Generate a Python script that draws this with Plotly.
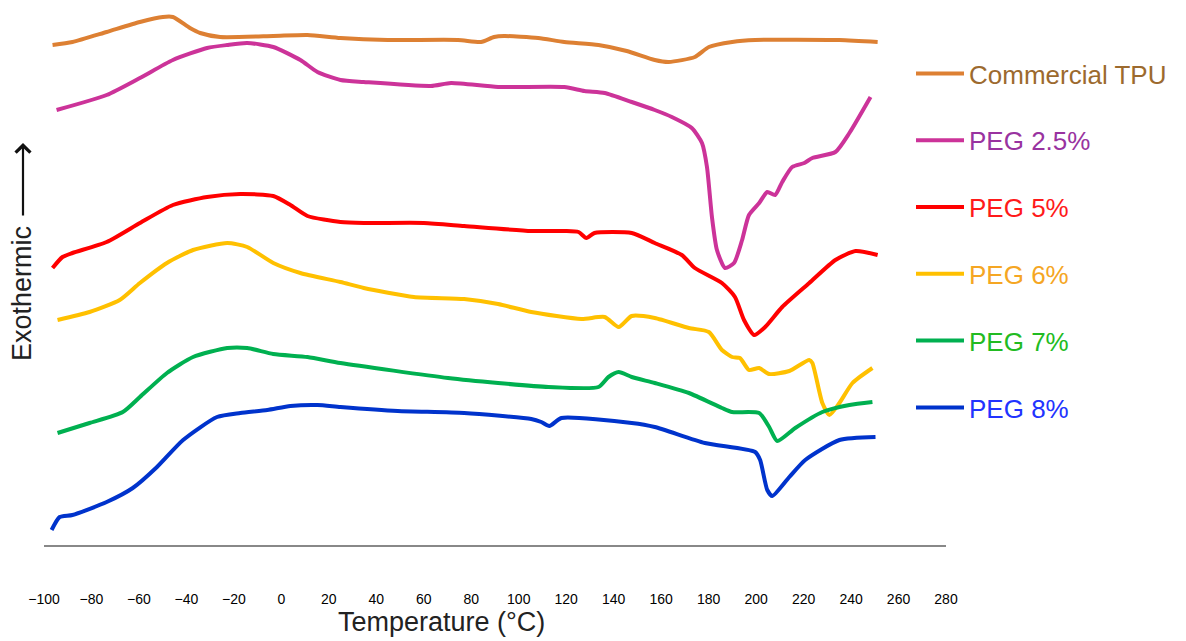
import plotly.graph_objects as go

# DSC curves: temperature (°C) vs heat flow (arbitrary units, exo up, curves offset)
tpu_t = [-96.4, -88.0, -73.6, -59.6, -49.9, -45.7, -38.5, -34.2, -25.8, -3.4, 11.0, 24.9, 44.8, 74.4, 84.1, 89.6, 93.9, 108.2, 119.2, 133.6, 145.5, 157.3, 163.2, 174.2, 180.1, 189.9, 199.6, 235.1, 251.2]
tpu_v = [500, 503, 513, 523, 528, 528, 517, 512, 508, 509, 510, 507, 505, 505, 503, 508, 509, 507, 503, 500, 494, 485, 483, 488, 498, 503, 505, 505, 503]

peg25_t = [-94.7, -73.6, -59.6, -45.7, -31.3, -22.8, -14.4, -3.4, 8.0, 15.2, 24.9, 34.7, 63.0, 71.5, 91.3, 119.2, 127.7, 136.2, 147.6, 157.3, 164.5, 172.9, 177.2, 179.3, 181.4, 183.5, 186.9, 190.7, 194.1, 197.0, 201.3, 204.7, 208.0, 211.0, 215.2, 220.3, 223.7, 233.4, 239.3, 248.2]
peg25_v = [435, 450, 467, 485, 497, 500, 502, 498, 485, 473, 465, 463, 459, 462, 458, 458, 454, 452, 443, 435, 428, 417, 402, 378, 328, 295, 277, 282, 305, 330, 342, 353, 350, 363, 378, 382, 387, 393, 412, 448]

peg5_t = [-96.4, -92.2, -88.0, -73.6, -59.6, -45.7, -31.3, -17.3, -3.4, 3.8, 11.0, 24.9, 34.7, 60.0, 77.0, 105.3, 119.2, 125.2, 128.5, 131.9, 147.6, 157.3, 168.7, 174.2, 185.6, 191.1, 194.9, 199.2, 203.8, 211.0, 222.4, 233.4, 241.9, 251.2]
peg5_v = [277, 288, 292, 303, 322, 340, 348, 351, 349, 340, 329, 323, 322, 322, 319, 314, 314, 313, 307, 312, 312, 302, 290, 277, 262, 248, 225, 210, 218, 238, 262, 285, 294, 290]

peg6_t = [-94.3, -80.8, -68.1, -59.6, -48.2, -37.2, -22.8, -14.4, -3.4, 8.0, 24.9, 34.7, 55.8, 77.0, 91.3, 105.3, 126.4, 136.2, 142.1, 147.6, 157.3, 171.7, 180.1, 185.6, 189.9, 193.2, 197.0, 201.3, 205.5, 214.0, 222.4, 223.7, 227.9, 230.9, 235.1, 240.6, 249.0]
peg6_v = [225, 233, 245, 262, 282, 295, 302, 298, 282, 272, 263, 257, 248, 246, 241, 233, 226, 228, 218, 229, 227, 217, 213, 195, 188, 187, 175, 177, 171, 174, 185, 182, 142, 130, 142, 162, 177]

peg7_t = [-94.3, -80.8, -66.8, -59.6, -48.2, -37.2, -22.8, -14.4, -3.4, 11.0, 24.9, 70.2, 91.3, 112.5, 133.6, 137.8, 142.1, 147.6, 157.3, 171.7, 185.6, 189.9, 201.3, 205.5, 208.9, 216.5, 227.9, 239.3, 249.0]
peg7_v = [112, 122, 133, 148, 172, 188, 197, 197, 191, 188, 182, 167, 162, 158, 158, 168, 173, 168, 162, 152, 137, 133, 132, 118, 104, 117, 133, 140, 143]

peg8_t = [-96.8, -93.4, -88.0, -73.6, -62.6, -52.4, -41.4, -27.1, -17.3, -5.9, 3.8, 15.2, 24.9, 49.0, 77.0, 105.3, 109.5, 112.9, 118.0, 147.6, 157.3, 178.4, 199.6, 201.7, 204.7, 206.8, 214.0, 220.7, 235.1, 250.3]
peg8_v = [15, 28, 30, 43, 57, 78, 105, 128, 132, 135, 139, 140, 138, 134, 132, 126, 123, 119, 127, 122, 118, 102, 93, 85, 55, 49, 68, 85, 105, 108]

series_names = ["Commercial TPU", "PEG 2.5%", "PEG 5%", "PEG 6%", "PEG 7%", "PEG 8%"]
line_colors = ["#DD8033", "#CC3399", "#FF0000", "#FFC000", "#00B050", "#0033CC"]
text_colors = ["#9C6A2E", "#9933A0", "#FF1A1A", "#F5A623", "#22BB22", "#2233FF"]
x_ticks = list(range(-100, 281, 20))

data = [(tpu_t, tpu_v), (peg25_t, peg25_v), (peg5_t, peg5_v),
        (peg6_t, peg6_v), (peg7_t, peg7_v), (peg8_t, peg8_v)]

# the page body has an 8px margin, so the figure is drawn from (8, 8)
OFF = 8
W, H = 1186 - OFF, 641 - OFF
PL, PR, PT, PB = 44, 946, 8, 545          # plot area in page pixels
L, T = PL - OFF, PT - OFF
R = W - (PR - OFF)
B = H - (PB - OFF)
pw, ph = PR - PL, PB - PT

def px(xp):
    return (xp - PL) / pw

def py(yp):
    return (PB - yp) / ph

fig = go.Figure()
for i, ((t, v), name) in enumerate(zip(data, series_names)):
    fig.add_trace(go.Scatter(
        x=t, y=v, mode="lines",
        name=f'<span style="color:{text_colors[i]}">{name}</span>',
        legendgroup=f"g{i}",
        line=dict(color=line_colors[i], width=4, shape="spline", smoothing=0.6),
    ))

fig.update_layout(
    width=W, height=H,
    margin=dict(l=L, r=R, t=T, b=B, pad=0),
    paper_bgcolor="white", plot_bgcolor="white",
    font=dict(family="Liberation Sans", color="black"),
    xaxis=dict(range=[-100, 280], tickvals=x_ticks, showgrid=False, zeroline=False,
               showline=True, linecolor="#888888", linewidth=1.5,
               ticks="", ticklabelstandoff=40,
               tickfont=dict(size=14, family="Liberation Sans", color="black")),
    yaxis=dict(range=[0, PB - PT], visible=False, showgrid=False, zeroline=False),
    legend=dict(x=px(911), y=py(50), xanchor="left", yanchor="top",
                tracegroupgap=30, itemwidth=48,
                font=dict(size=26, family="Liberation Sans"),
                bgcolor="rgba(0,0,0,0)"),
    annotations=[
        dict(text="Temperature (°C)", x=px(441), y=py(622), xref="paper", yref="paper",
             showarrow=False, font=dict(size=27, family="Liberation Sans", color="#222222"),
             xanchor="center", yanchor="middle"),
        dict(text="Exothermic", x=px(22), y=py(294), xref="paper", yref="paper",
             showarrow=False, textangle=-90, font=dict(size=27, family="Liberation Sans", color="#222222"),
             xanchor="center", yanchor="middle"),
        dict(text="", x=px(23), y=py(143), xref="paper", yref="paper",
             showarrow=True, ax=0, ay=74, arrowhead=4, arrowsize=1.3, arrowwidth=2.2,
             arrowcolor="#111111"),
    ],
)

fig.write_html("out.html")
